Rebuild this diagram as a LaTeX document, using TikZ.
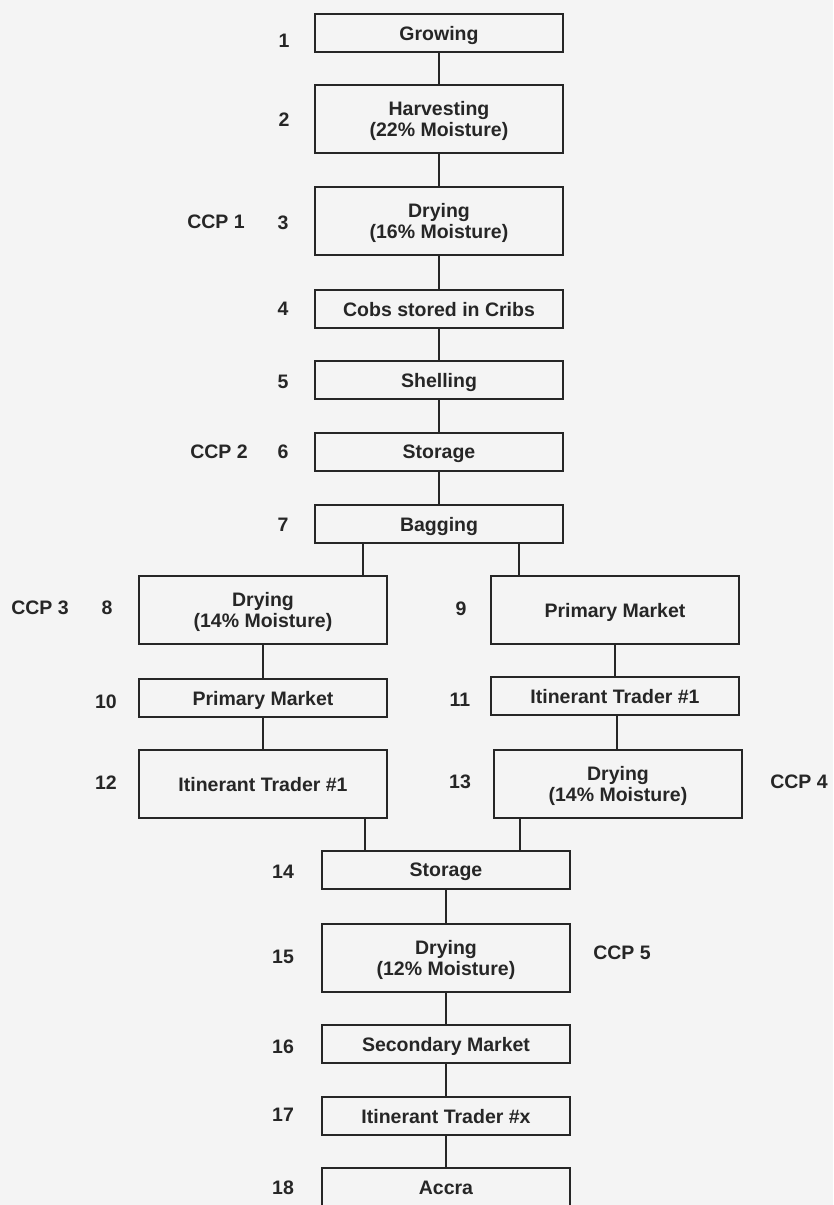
\documentclass[tikz,border=0pt]{standalone}
\usepackage{fontspec}
\setmainfont{Liberation Sans}
\def\boxwidth{248pt}

\begin{document}
\begin{tikzpicture}[x=1pt,y=-1pt,line width=2.4pt,draw=black!85]
    \tikzstyle{stage}=[draw,line width=2.8pt,minimum width=\boxwidth,minimum height=38pt,inner sep=0pt,text depth=0pt,align=center,font=\fontsize{19.5}{21}\selectfont\bfseries,text=black!85]
    \tikzstyle{tall stage}=[stage,minimum height=68pt]
    \tikzstyle{num}=[font=\fontsize{19.5}{21}\selectfont\bfseries,text=black!85]
    \tikzstyle{ccp}=[num]

    % Paper background
    \useasboundingbox (0,0) rectangle (833,1205);
    \clip (0,0) rectangle (833,1205);
    \fill[gray!9] (0,0) rectangle (833,1205);

    % Draw the main column down to bagging
    \node[stage] (n1) at (439,33) {Growing};
    \node[tall stage] (n2) at (439,119) {Harvesting\\(22\% Moisture)};
    \node[tall stage] (n3) at (439,221) {Drying\\(16\% Moisture)};
    \node[stage] (n4) at (439,309) {Cobs stored in Cribs};
    \node[stage] (n5) at (439,380) {Shelling};
    \node[stage] (n6) at (439,452) {Storage};
    \node[stage] (n7) at (439,524) {Bagging};

    % Draw the two branches
    \node[tall stage] (n8) at (263,610) {Drying\\(14\% Moisture)};
    \node[tall stage] (n9) at (615,610) {Primary Market};
    \node[stage] (n10) at (263,698) {Primary Market};
    \node[stage] (n11) at (615,696) {Itinerant Trader \#1};
    \node[tall stage] (n12) at (263,784) {Itinerant Trader \#1};
    \node[tall stage] (n13) at (618,784) {Drying\\(14\% Moisture)};

    % Draw the lower column
    \node[stage] (n14) at (446,870) {Storage};
    \node[tall stage] (n15) at (446,958) {Drying\\(12\% Moisture)};
    \node[stage] (n16) at (446,1044) {Secondary Market};
    \node[stage] (n17) at (446,1116) {Itinerant Trader \#x};
    \node[stage,minimum height=40pt] (n18) at (446,1188) {Accra};

    % Step numbers
    \node[num] (l1) at (284,41) {1};
    \node[num] (l2) at (284,120) {2};
    \node[num] (l3) at (283,223) {3};
    \node[num] (l4) at (283,309) {4};
    \node[num] (l5) at (283,382) {5};
    \node[num] (l6) at (283,452) {6};
    \node[num] (l7) at (283,525) {7};
    \node[num] (l8) at (107,608) {8};
    \node[num] (l9) at (461,609) {9};
    \node[num] (l10) at (106,702) {10};
    \node[num] (l11) at (460,700) {11};
    \node[num] (l12) at (106,783) {12};
    \node[num] (l13) at (460,782) {13};
    \node[num] (l14) at (283,872) {14};
    \node[num] (l15) at (283,957) {15};
    \node[num] (l16) at (283,1047) {16};
    \node[num] (l17) at (283,1115) {17};
    \node[num] (l18) at (283,1188) {18};

    % Critical control points
    \node[ccp] (c1) at (216,222) {CCP 1};
    \node[ccp] (c2) at (219,452) {CCP 2};
    \node[ccp] (c3) at (40,608) {CCP 3};
    \node[ccp] (c4) at (799,782) {CCP 4};
    \node[ccp] (c5) at (622,953) {CCP 5};

    % Connect the main column
    \path (n1) edge (n2);
    \path (n2) edge (n3);
    \path (n3) edge (n4);
    \path (n4) edge (n5);
    \path (n5) edge (n6);
    \path (n6) edge (n7);

    % Split into the branches
    \draw ([xshift=-76pt]n7.south) -- ([xshift=-76pt]n7.south |- n8.north);
    \draw ([xshift=80pt]n7.south) -- ([xshift=80pt]n7.south |- n9.north);
    \path (n8) edge (n10);
    \path (n10) edge (n12);
    \path (n9) edge (n11);
    \draw ([xshift=2pt]n11.south) -- ([xshift=2pt]n11.south |- n13.north);

    % Join the branches again
    \draw ([xshift=-81pt]n14.north) -- ([xshift=-81pt]n14.north |- n12.south);
    \draw ([xshift=74pt]n14.north) -- ([xshift=74pt]n14.north |- n13.south);
    \path (n14) edge (n15);
    \path (n15) edge (n16);
    \path (n16) edge (n17);
    \path (n17) edge (n18);
\end{tikzpicture}
\end{document}
